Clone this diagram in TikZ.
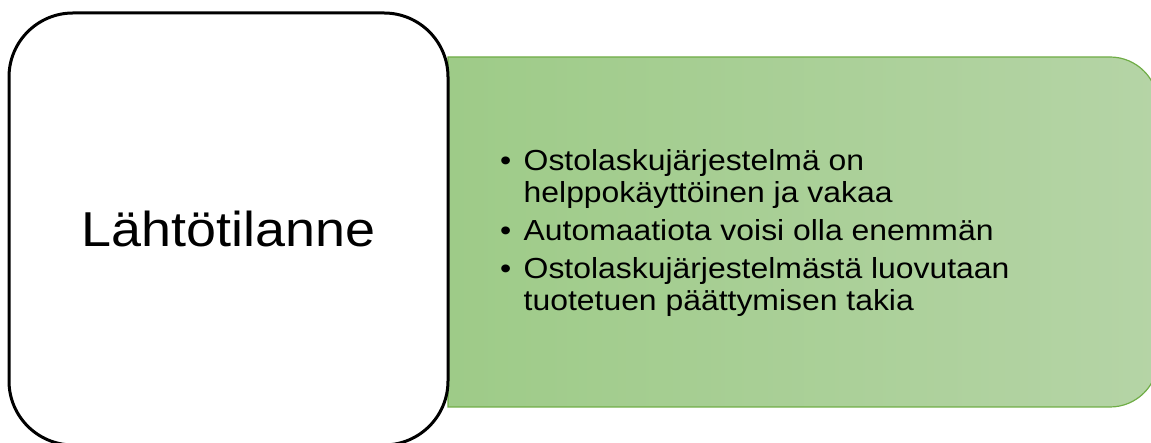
\documentclass[tikz,border=0pt]{standalone}
\usepackage{fontspec}
\setmainfont{Liberation Sans}
\newfontfamily\widesans[FakeStretch=1.1]{Liberation Sans}
\definecolor{gleft}{RGB}{158,203,136}
\definecolor{gright}{RGB}{181,212,166}
\definecolor{gborder}{RGB}{112,173,71}
\tikzset{
  titletext/.style={inner sep=0pt, font=\widesans\fontsize{49}{49}\selectfont, text=black},
  bullettext/.style={inner sep=0pt, font=\widesans\fontsize{29}{29}\selectfont, text=black, anchor=base west},
  bulletmark/.style={inner sep=0pt, font=\widesans\fontsize{29}{29}\selectfont, text=black, anchor=base west},
}
\begin{document}
\begin{tikzpicture}[x=1pt,y=1pt]
\useasboundingbox (0,0) rectangle (1151,443);
% green panel
\path[draw=gborder, line width=1.2pt, left color=gleft, right color=gright]
  (448,386) -- (1110,386) arc[start angle=90,end angle=0,radius=48pt]
  -- (1158,84) arc[start angle=0,end angle=-90,radius=48pt]
  -- (448,36) -- cycle;
% white box
\draw[line width=3pt, fill=white, rounded corners=64pt] (9,-2) rectangle (448,430);
\node[titletext, anchor=base] (title) at (228.5,196.3) {Lähtötilanne};
% bullets
\node[bulletmark] (b1) at (500,272.5) {•};
\node[bullettext] (t1a) at (523.5,272.5) {Ostolaskujärjestelmä on};
\node[bullettext] (t1b) at (523.5,240) {helppokäyttöinen ja vakaa};
\node[bulletmark] (b2) at (500,202) {•};
\node[bullettext] (t2) at (523.5,202) {Automaatiota voisi olla enemmän};
\node[bulletmark] (b3) at (500,164.5) {•};
\node[bullettext] (t3a) at (523.5,164.5) {Ostolaskujärjestelmästä luovutaan};
\node[bullettext] (t3b) at (523.5,132) {tuotetuen päättymisen takia};
\end{tikzpicture}
\end{document}
